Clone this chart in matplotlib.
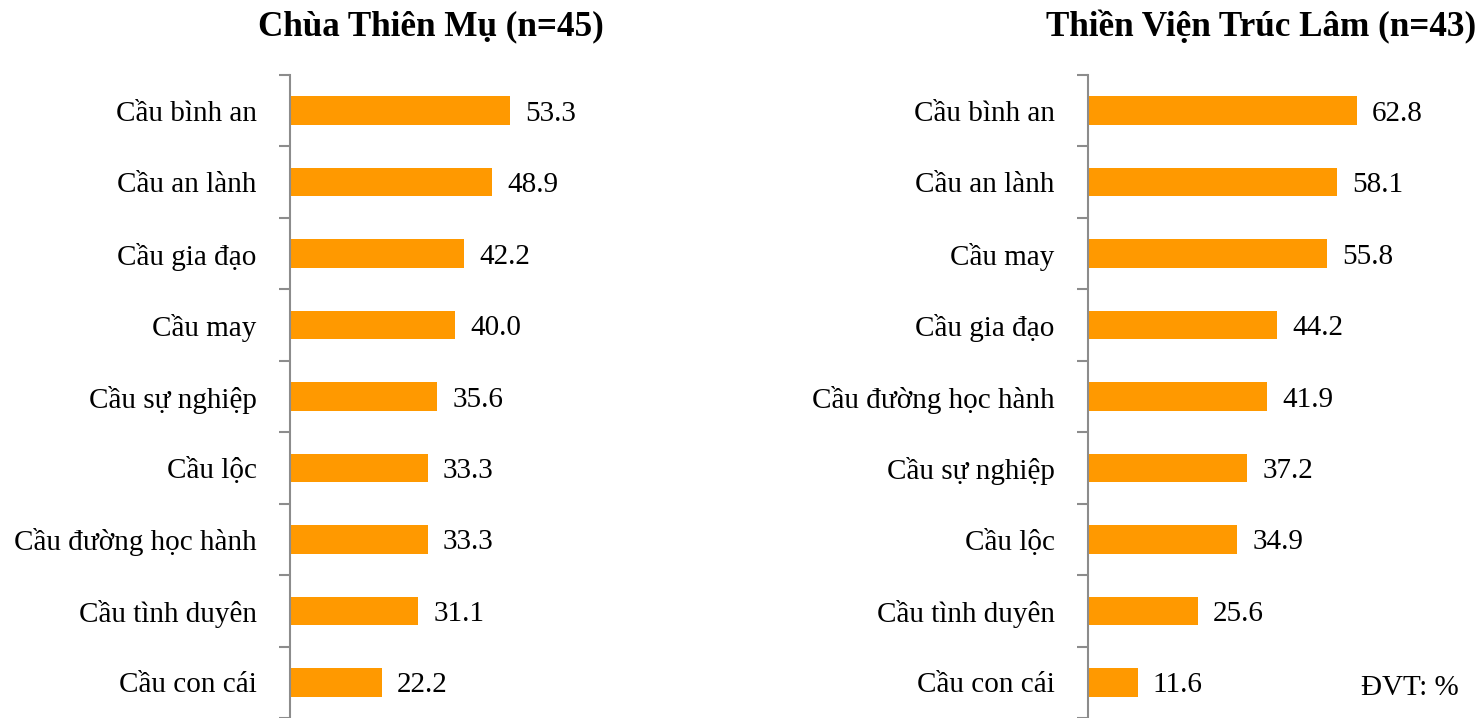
import numpy as np
import matplotlib.pyplot as plt

plt.rcParams['font.family'] = ['Liberation Serif', 'DejaVu Serif']

# Chùa Thiên Mụ
cats_tm = ['Cầu bình an', 'Cầu an lành', 'Cầu gia đạo', 'Cầu may', 'Cầu sự nghiệp',
           'Cầu lộc', 'Cầu đường học hành', 'Cầu tình duyên', 'Cầu con cái']
vals_tm = [53.3, 48.9, 42.2, 40.0, 35.6, 33.3, 33.3, 31.1, 22.2]

# Thiền Viện Trúc Lâm
cats_tl = ['Cầu bình an', 'Cầu an lành', 'Cầu may', 'Cầu gia đạo', 'Cầu đường học hành',
           'Cầu sự nghiệp', 'Cầu lộc', 'Cầu tình duyên', 'Cầu con cái']
vals_tl = [62.8, 58.1, 55.8, 44.2, 41.9, 37.2, 34.9, 25.6, 11.6]

W, H = 1481, 718
fig = plt.figure(figsize=(W / 100, H / 100), dpi=100)

bar_col = '#FF9900'
spine_col = '#8C8C8C'
fs = 21


def panel(x0, px_per_unit, xmax, cats, vals):
    top = 75
    width_px = px_per_unit * xmax
    ax = fig.add_axes([x0 / W, 0, width_px / W, 1 - top / H])
    n = len(cats)
    y = np.arange(n)
    bars = ax.barh(y, vals, height=0.4, color=bar_col)
    txts = ax.bar_label(bars, labels=['%.1f' % v for v in vals], padding=11, fontsize=fs)
    for t in txts:
        t.set_va('center_baseline')
    ax.set_xlim(0, xmax)
    ax.set_ylim(n - 0.5, -0.5)
    for s in ['top', 'right', 'bottom']:
        ax.spines[s].set_visible(False)
    ax.spines['left'].set_color(spine_col)
    ax.spines['left'].set_linewidth(1.5)
    ax.set_xticks([])
    ax.set_yticks(np.arange(n + 1) - 0.5)
    ax.set_yticklabels([])
    ax.tick_params(axis='y', which='major', length=8, width=1.5, color=spine_col)
    ax.set_yticks(y, minor=True)
    ax.set_yticklabels(cats, minor=True, fontsize=fs)
    ax.tick_params(axis='y', which='minor', length=0, pad=24)
    return ax


panel(290, 4.13, 70, cats_tm, vals_tm)
panel(1088, 4.28, 90, cats_tl, vals_tl)

fig.text(431 / W, 1 - 27 / H, 'Chùa Thiên Mụ (n=45)', ha='center', va='center',
         fontsize=25.3, fontweight='bold')
fig.text(1261 / W, 1 - 27 / H, 'Thiền Viện Trúc Lâm (n=43)', ha='center', va='center',
         fontsize=25.3, fontweight='bold')
fig.text(1459 / W, 1 - 688 / H, 'ĐVT: %', ha='right', va='center', fontsize=fs)

fig.savefig('out.png', dpi=100)
